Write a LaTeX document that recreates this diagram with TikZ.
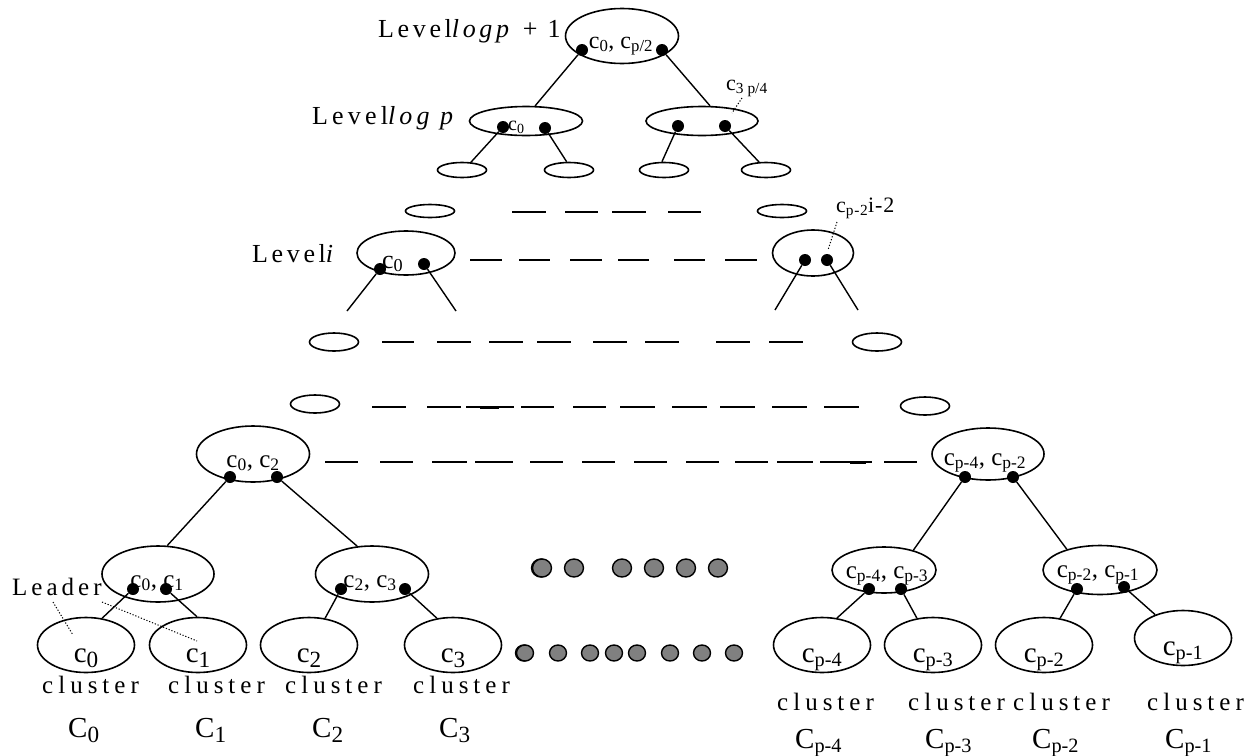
\documentclass[tikz,border=0pt]{standalone}
\usepackage{fontspec}
\setmainfont{Liberation Serif}
\usetikzlibrary{shapes.geometric,calc}

\newcommand{\fsz}[1]{\fontsize{#1}{#1}\selectfont}
\newcommand{\trk}[1]{\addfontfeature{LetterSpace=#1}}
\newcommand{\lsub}[1]{\textsubscript{#1}}
\newcommand{\bsub}[1]{\raisebox{-0.2em}{\scalebox{0.8}{#1}}}

\tikzset{
  oval/.style={draw, ellipse, line width=1.6pt, inner sep=0pt},
  bead/.style={circle, fill=black, inner sep=0pt, minimum size=12pt},
  edge/.style={line width=1.4pt},
  lead/.style={line width=1pt, dash pattern=on 1.2pt off 1.8pt},
  gap/.style={line width=1.6pt},
  gdot/.style={draw, fill=black!50, line width=1.4pt},
  lbl/.style={inner sep=0pt, anchor=base west},
  mid/.style={inner sep=0pt, anchor=base},
}

\begin{document}
\begin{tikzpicture}[x=1pt, y=-1pt]
\useasboundingbox (0,0) rectangle (1260,755);

% ---------- upper levels ----------
\node[oval, minimum width=113, minimum height=55] (top) at (622,36) {};
\node[oval, minimum width=113, minimum height=29] (la) at (526,121) {};
\node[oval, minimum width=112, minimum height=29] (lb) at (702,121) {};
\foreach \n/\x in {s1/462, s2/569, s3/664, s4/766}
  \node[oval, minimum width=49, minimum height=15] (\n) at (\x,170) {};

\node[bead] (dt1) at (582,50) {};
\node[bead] (dt2) at (662,50) {};
\node[bead] (da1) at (503,127) {};
\node[bead] (da2) at (545,128) {};
\node[bead] (db1) at (678,126) {};
\node[bead] (db2) at (725,126) {};

\draw[edge] (dt1) -- (la.59);
\draw[edge] (dt2) -- (lb.62);
\draw[edge] (da1) -- (s1.41);
\draw[edge] (da2) -- (s2.106);
\draw[edge] (db1) -- (s3.104);
\draw[edge] (db2) -- (s4.131);

\node[lbl] (lvtop) at (378,37) {\fsz{26}\trk{14}Level\textit{logp} + 1};
\node[lbl] (lvlog) at (312,124) {\fsz{26}\trk{16}Level\textit{log p}};
\node[mid] (ttop) at (621,48) {\fsz{24}c\lsub{0}, c\lsub{p/2}};
\node[lbl] (tla) at (508,130) {\fsz{20}c\lsub{0}};
\node[lbl] (t3p) at (726,90) {\fsz{22}c\lsub{3 p/4}};
\coordinate (t3pend) at (732,113);
\draw[lead] ([shift={(16,8)}]t3p.base west) -- (t3pend);

% ---------- level i ----------
\node[oval, minimum width=49, minimum height=13] (r1) at (430,211) {};
\node[oval, minimum width=49, minimum height=13] (r2) at (782,211) {};
\foreach \a/\b in {512/546, 565/598, 612/646, 668/701}
  \draw[gap] (\a,212) -- (\b,212);

\node[oval, minimum width=98, minimum height=44] (li) at (406,253) {};
\node[oval, minimum width=81, minimum height=46] (ri) at (813,253) {};
\node[bead] (di1) at (380,269) {};
\node[bead] (di2) at (424,264) {};
\node[bead] (dj1) at (805,260) {};
\node[bead] (dj2) at (827,260) {};
\coordinate (ei1) at (347,311);
\coordinate (ei2) at (456,311);
\coordinate (ej1) at (775,310);
\coordinate (ej2) at (858,310);
\draw[edge] (di1) -- (ei1);
\draw[edge] (di2) -- (ei2);
\draw[edge] (dj1) -- (ej1);
\draw[edge] (dj2) -- (ej2);
\foreach \a/\b in {470/502, 519/550, 570/602, 618/649, 674/705, 725/757}
  \draw[gap] (\a,260) -- (\b,260);

\node[lbl] (lvi) at (252,262) {\fsz{26}\trk{14}Level\textit{i}};
\node[lbl] (tli) at (382,268) {\fsz{26}c\lsub{0}};
\node[lbl] (tpi) at (836,212) {\fsz{22}\trk{4}c\lsub{p-2}i-2};
\coordinate (tpiend) at (828,250);
\draw[lead] ([shift={(1,10)}]tpi.base west) -- (tpiend);

% ---------- intermediate rows ----------
\node[oval, minimum width=49, minimum height=18] (q1) at (334,342) {};
\node[oval, minimum width=49, minimum height=18] (q2) at (877,342) {};
\foreach \a/\b in {382/414, 437/471, 489/523, 537/571, 593/627, 645/679, 716/750, 769/803}
  \draw[gap] (\a,342) -- (\b,342);

\node[oval, minimum width=49, minimum height=18] (w1) at (315,404) {};
\node[oval, minimum width=49, minimum height=18] (w2) at (925,406) {};
\foreach \a/\b in {372/406, 427/461, 466/514, 521/554, 573/606, 620/655, 672/707, 720/755, 772/807, 824/859}
  \draw[gap] (\a,407) -- (\b,407);
\draw[gap] (480,407.8) -- (499,407.8);

% ---------- level 2 ----------
\node[oval, minimum width=113, minimum height=56] (A) at (253,454) {};
\node[oval, minimum width=112, minimum height=52] (B) at (988,454) {};
\foreach \a/\b in {325/358, 380/413, 432/467, 475/513, 530/563, 582/615, 634/667, 686/719, 735/768, 777/813, 820/843, 842/872, 884/917}
  \draw[gap] (\a,462) -- (\b,462);
\draw[gap] (850,462.8) -- (866,462.8);

\node[bead] (dA1) at (230,477) {};
\node[bead] (dA2) at (277,477) {};
\node[bead] (dB1) at (965,477) {};
\node[bead] (dB2) at (1013,477) {};
\node[mid] (tA) at (253,467) {\fsz{25}c\lsub{0}, c\lsub{2}};
\node[mid] (tB) at (985,465) {\fsz{25}c\lsub{p-4}, c\lsub{p-2}};

% ---------- level 1 ----------
\node[oval, minimum width=112, minimum height=56] (A1) at (158,574) {};
\node[oval, minimum width=113, minimum height=56] (A2) at (372,574) {};
\node[oval, minimum width=104, minimum height=46] (B1) at (884,570) {};
\node[oval, minimum width=114, minimum height=49] (B2) at (1100,570) {};
\draw[edge] (dA1) -- (A1.72);
\draw[edge] (dA2) -- (A2.118);
\draw[edge] (dB1) -- (B1.34);
\draw[edge] (dB2) -- (B2.148);

\node[bead] (dA11) at (133,589) {};
\node[bead] (dA12) at (166,589) {};
\node[bead] (dA21) at (341,589) {};
\node[bead] (dA22) at (405,589) {};
\node[bead] (dB11) at (869,589) {};
\node[bead] (dB12) at (901,589) {};
\node[bead] (dB21) at (1077,589) {};
\node[bead] (dB22) at (1124,587) {};
\node[mid] (tA1) at (157,587) {\fsz{25}c\lsub{0}, c\lsub{1}};
\node[mid] (tA2) at (370,587) {\fsz{25}c\lsub{2}, c\lsub{3}};
\node[mid] (tB1) at (887,578) {\fsz{25}c\lsub{p-4}, c\lsub{p-3}};
\node[mid] (tB2) at (1098,577) {\fsz{25}c\lsub{p-2}, c\lsub{p-1}};

% ---------- clusters ----------
\foreach \n/\x/\y in {k0/86/645, k1/198/645, k2/309/645, k3/453/645,
                      kp4/822/645, kp3/933/645, kp2/1044/645, kp1/1183/638}
  \node[oval, minimum width=97, minimum height=55] (\n) at (\x,\y) {};

\draw[edge] (dA11) -- (k0.59);
\draw[edge] (dA12) -- (k1.92);
\draw[edge] (dA21) -- (k2.59);
\draw[edge] (dA22) -- (k3.121);
\draw[edge] (dB11) -- (kp4.61);
\draw[edge] (dB12) -- (kp3.121);
\draw[edge] (dB21) -- (kp2.59);
\draw[edge] (dB22) -- (kp1.140);

\node[mid] (c0) at (86,662) {\fsz{29}c\bsub{0}};
\node[mid] (c1) at (198,662) {\fsz{29}c\bsub{1}};
\node[mid] (c2) at (309,662) {\fsz{29}c\bsub{2}};
\node[mid] (c3) at (453,662) {\fsz{29}c\bsub{3}};
\node[mid] (cp4) at (822,662) {\fsz{29}c\lsub{p-4}};
\node[mid] (cp3) at (933,662) {\fsz{29}c\lsub{p-3}};
\node[mid] (cp2) at (1044,662) {\fsz{29}c\lsub{p-2}};
\node[mid] (cp1) at (1183,655) {\fsz{29}c\lsub{p-1}};

\node[lbl] (ldr) at (12,595) {\fsz{25}\trk{16}Leader};
\coordinate (ldrA) at (73,635);
\coordinate (ldrB) at (197,641);
\draw[lead] ([shift={(41,7)}]ldr.base west) -- (ldrA);
\draw[lead] ([shift={(90,7)}]ldr.base west) -- (ldrB);

\foreach \n/\x in {n0/42, n1/168, n2/285, n3/413}
  \node[lbl] (\n) at (\x,693) {\fsz{25}\trk{20}cluster};
\foreach \n/\x in {n4/777, n5/908, n6/1013, n7/1147}
  \node[lbl] (\n) at (\x,710) {\fsz{25}\trk{20}cluster};
\node[lbl] (N0) at (68,737) {\fsz{29}C\bsub{0}};
\node[lbl] (N1) at (195,737) {\fsz{29}C\bsub{1}};
\node[lbl] (N2) at (312,737) {\fsz{29}C\bsub{2}};
\node[lbl] (N3) at (439,737) {\fsz{29}C\bsub{3}};
\node[lbl] (N4) at (795,748) {\fsz{29}C\lsub{p-4}};
\node[lbl] (N5) at (925,748) {\fsz{29}C\lsub{p-3}};
\node[lbl] (N6) at (1032,748) {\fsz{29}C\lsub{p-2}};
\node[lbl] (N7) at (1165,748) {\fsz{29}C\lsub{p-1}};

% ---------- elided middle ----------
\draw[gdot] (541,568) ellipse [x radius=9.5, y radius=9];
\foreach \x in {542, 574, 622, 654, 686, 718}
  \draw[gdot] (\x,568) ellipse [x radius=9.5, y radius=9];
\draw[gdot] (524,653) ellipse [x radius=8.5, y radius=8];
\foreach \x in {525, 558, 590, 614, 637, 670, 702, 734}
  \draw[gdot] (\x,653) ellipse [x radius=8.5, y radius=8];

\end{tikzpicture}
\end{document}
